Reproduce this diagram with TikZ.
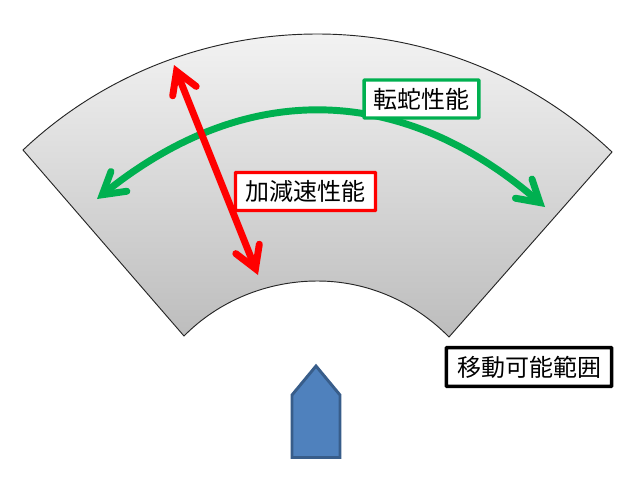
\documentclass[tikz,border=0pt]{standalone}
\usepackage{fontspec}
\setmainfont{Noto Sans CJK JP}
\usetikzlibrary{arrows.meta}
\definecolor{myGreen}{HTML}{00B050}
\definecolor{myBlue}{HTML}{4F81BD}
\definecolor{myBlueDark}{HTML}{385D8A}
\tikzset{
	labelbox/.style={draw, fill=white, line width=2.6pt, rounded corners=0.5pt, inner sep=0pt, font=\fontsize{18}{20}\selectfont, anchor=center},
	bigarrow/.style={line width=5.2pt, {Straight Barb[length=16pt, width=19pt, line cap=round, line join=miter]}-{Straight Barb[length=16pt, width=19pt, line cap=round, line join=miter]}},
}
\begin{document}
\begin{tikzpicture}[x=0.75pt, y=-0.75pt]

	\useasboundingbox (0,0) rectangle (634,486);

	% FAN
	\path[draw=black!85, line width=0.7pt, top color=black!5, bottom color=black!26]
		(23,150) .. controls (102.7,74.7) and (207.9,34) .. (317.5,34)
		.. controls (427,34) and (532.3,76.7) .. (612,152)
		-- (449,337)
		.. controls (414,301.5) and (367.3,281) .. (317.5,281)
		.. controls (267.7,281) and (219,300.5) .. (184,336)
		-- cycle;

	% CAR
	\draw[draw=myBlueDark, fill=myBlue, line width=2.2pt] (316,366) -- (340,395) -- (340,457.5) -- (292,457.5) -- (292,395) -- cycle;

	\coordinate (turnL) at (97,199);
	\coordinate (turnR) at (545,207);
	\coordinate (accelT) at (174,65);
	\coordinate (accelB) at (258,275);

	\draw[bigarrow, color=myGreen] (turnL) .. controls (245,80) and (400,82) .. (turnR);
	\draw[bigarrow, color=red] (accelT) -- (accelB);

	\node[labelbox, draw=myGreen, minimum width=86pt, minimum height=28.5pt] (turnbox) at (421.5,99) {転蛇性能};
	\node[labelbox, draw=red, minimum width=105pt, minimum height=28.5pt] (accelbox) at (305.5,191.5) {加減速性能};
	\node[labelbox, draw=black, minimum width=124pt, minimum height=29pt] (rangebox) at (529,367) {移動可能範囲};

\end{tikzpicture}
\end{document}
